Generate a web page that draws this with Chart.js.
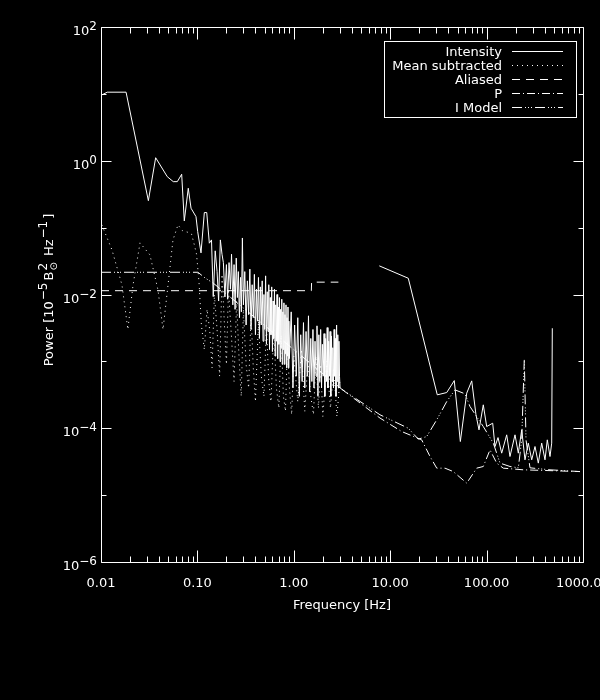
<!DOCTYPE html>
<html>
<head>
<meta charset="utf-8">
<script src="https://cdn.jsdelivr.net/npm/chart.js@4.4.1/dist/chart.umd.min.js"></script>
<style>
  html, body { margin: 0; padding: 0; background: #000; overflow: hidden; }
  #wrap { width: 600px; height: 700px; }
</style>
</head>
<body>
<div id="wrap"><canvas id="espectro"></canvas></div>
<script>
  // valores (Hz, potencia)
  const intensityFreq = [
    0.0102, 0.0116, 0.0182, 0.0310, 0.0369, 0.0487, 0.0562, 0.0619, 0.0687, 0.0731,
    0.0804, 0.0859, 0.0967, 0.1007, 0.109, 0.118, 0.125, 0.133,
    0.140, 0.146, 0.153, 0.160, 0.166, 0.173, 0.180, 0.186, 0.193, 0.200,
    0.206, 0.213, 0.220, 0.226, 0.233, 0.240, 0.246, 0.253, 0.260, 0.266,
    0.273, 0.280, 0.286, 0.293, 0.300,
    0.31, 0.32, 0.33, 0.34, 0.35, 0.36, 0.37, 0.38, 0.39, 0.40,
    0.41, 0.42, 0.43, 0.44, 0.45, 0.46, 0.47, 0.48, 0.49, 0.50,
    0.51, 0.52, 0.53, 0.54, 0.55, 0.56, 0.57, 0.58, 0.59, 0.60,
    0.61, 0.62, 0.63, 0.64, 0.65, 0.66, 0.67, 0.68, 0.69, 0.70,
    0.71, 0.72, 0.73, 0.74, 0.75, 0.76, 0.77, 0.78, 0.79, 0.80,
    0.81, 0.82, 0.83, 0.84, 0.85, 0.86, 0.87, 0.88, 0.89, 0.90,
    0.94, 0.98, 1.02, 1.06, 1.10, 1.14, 1.18, 1.22, 1.26, 1.30,
    1.34, 1.38, 1.42, 1.46, 1.50, 1.54, 1.58, 1.62, 1.66, 1.70,
    1.74, 1.78, 1.82, 1.86, 1.90, 1.94, 1.98, 2.02, 2.06, 2.10,
    2.14, 2.18, 2.22, 2.26, 2.30, 2.34, 2.38, 2.42, 2.46, 2.50,
    2.54, 2.58, 2.62, 2.66, 2.70, 2.74, 2.78, 2.82, 2.86, 2.90,
    2.94, 2.98, 3.02,
    5.0,
    7.71, 15.4, 30.8, 38.6, 46.2, 53.4, 62.2, 70.1, 77.6, 83.4,
    92.4, 100.2, 115.7, 122.2, 131.3, 143.4, 161.6, 174.8, 197.1, 213.3,
    231.3, 250.2, 270.8, 293.7, 317.8, 343.9, 372.9, 403.5, 426.3, 454.7,
    473.5, 480.3
  ];
  const intensityPow = [
    9.64, 10.6, 10.6, 0.253, 1.11, 0.578, 0.487, 0.487, 0.628, 0.126,
    0.388, 0.195, 0.146, 0.0871, 0.0419, 0.168, 0.168, 0.0585,
    0.0655, 0.0093, 0.045, 0.022, 0.008, 0.0655, 0.040, 0.030, 0.0092, 0.028,
    0.0085, 0.030, 0.012, 0.040, 0.007, 0.028, 0.006, 0.035, 0.0090, 0.022,
    0.0045, 0.018, 0.0055, 0.070, 0.0070,
    0.022, 0.0035, 0.016, 0.0050, 0.024, 0.0030, 0.014, 0.0045, 0.020, 0.0025,
    0.012, 0.0040, 0.018, 0.0022, 0.013, 0.0035, 0.016, 0.0020, 0.010, 0.0030,
    0.019, 0.0018, 0.011, 0.0028, 0.014, 0.0015, 0.009, 0.0025, 0.013, 0.0014,
    0.0080, 0.0022, 0.012, 0.0012, 0.0070, 0.0020, 0.010, 0.0011, 0.0065, 0.0018,
    0.0090, 0.0010, 0.0060, 0.0016, 0.0085, 0.0009, 0.0055, 0.0015, 0.0075, 0.0009,
    0.0050, 0.0013, 0.0070, 0.0008, 0.0045, 0.0012, 0.0065, 0.0008, 0.0040, 0.0011,
    0.0055, 0.0004, 0.0035, 0.0006, 0.0045, 0.0003, 0.0025, 0.0005, 0.0038, 0.0004,
    0.0028, 0.0006, 0.0048, 0.00035, 0.0022, 0.0005, 0.0030, 0.0004, 0.0020, 0.0006,
    0.0034, 0.0003, 0.0025, 0.0005, 0.0030, 0.0004, 0.0018, 0.0006, 0.0026, 0.0003,
    0.0022, 0.0005, 0.0032, 0.0004, 0.0020, 0.0006, 0.0028, 0.0003, 0.0024, 0.0005,
    0.0016, 0.0004, 0.0030, 0.0006, 0.0022, 0.0003, 0.0035, 0.0005, 0.0025, 0.0004,
    0.0020, 0.0006, 0.0004,
    null,
    0.0268, 0.0175, 3.16e-4, 3.42e-4, 5.16e-4, 6.33e-5, 3.35e-4, 5.11e-4, 1.59e-4, 9.46e-5,
    2.24e-4, 1.06e-4, 1.19e-4, 5.33e-5, 7.25e-5, 4.24e-5, 7.97e-5, 3.78e-5, 7.97e-5, 4.24e-5,
    9.46e-5, 3.37e-5, 5.99e-5, 3.37e-5, 5.33e-5, 3.01e-5, 5.99e-5, 3.37e-5, 6.71e-5, 3.78e-5,
    5.99e-5, 3.13e-3
  ];

  const meanSubFreq = [
    0.0102, 0.0130, 0.0165, 0.0190, 0.0215, 0.0254, 0.0322, 0.0390, 0.0440, 0.0496,
    0.0558, 0.0629, 0.0700, 0.0800, 0.0870, 0.0930, 0.0980, 0.104, 0.110, 0.118,
    0.126, 0.134, 0.142, 0.150, 0.160, 0.170, 0.180, 0.190, 0.200, 0.210,
    0.225, 0.240, 0.255, 0.270, 0.285, 0.300, 0.320, 0.340, 0.360, 0.380,
    0.400, 0.430, 0.460, 0.490, 0.520, 0.550, 0.580, 0.620, 0.660, 0.700,
    0.740, 0.780, 0.820, 0.860, 0.900, 0.950, 1.00, 1.10, 1.20, 1.30,
    1.40, 1.50, 1.60, 1.70, 1.80, 1.90, 2.00, 2.20, 2.40, 2.60,
    2.80, 3.00
  ];
  const meanSubPow = [
    0.110, 0.0464, 0.0139, 0.0030, 0.0139, 0.0591, 0.0391, 0.0117, 0.0030, 0.0139,
    0.0655, 0.110, 0.090, 0.085, 0.080, 0.055, 0.040, 0.015, 0.0035, 0.0015,
    0.006, 0.0030, 0.0008, 0.010, 0.0030, 0.0006, 0.020, 0.0040, 0.0009, 0.012,
    0.0025, 0.0005, 0.008, 0.0012, 0.0003, 0.006, 0.0009, 0.0004, 0.0050, 0.0008,
    0.00025, 0.004, 0.0006, 0.0003, 0.0035, 0.0005, 0.00025, 0.0030, 0.0004, 0.0002,
    0.0025, 0.0003, 0.00018, 0.0020, 0.0004, 0.00016, 0.0012, 0.00025, 0.0015, 0.00018,
    0.0010, 0.0003, 0.00016, 0.0012, 0.0002, 0.0009, 0.00015, 0.0010, 0.0002, 0.0008,
    0.00015, 0.0005
  ];

  const aliasedFreq = [0.01, 1.52, 1.53, 2.9];
  const aliasedPow = [0.0114, 0.0114, 0.0153, 0.0153];

  const pFreq = [3.14, 7.84, 13.16, 21.2, 25.9, 30.4, 37.0, 45.1, 62.2, 78.9, 92.4, 108.5, 127.3, 149.0, 240.3, 930.9];
  const pPow = [3.84e-4, 1.42e-4, 8.93e-5, 6.71e-5, 3.78e-5, 2.53e-5, 2.53e-5, 2.25e-5, 1.51e-5, 2.53e-5, 2.68e-5, 4.75e-5, 3.01e-5, 2.53e-5, 2.39e-5, 2.25e-5];

  const modelFreq = [0.0100, 0.1012, 0.120, 0.146, 3.14, 7.84, 15.41, 19.56, 23.9, 30.4, 38.6, 47.0, 59.7, 67.3, 92.4, 117.4, 137.7, 174.8, 213.3, 231.3, 246.1, 256.3, 282.0, 454.7, 930.9];
  const modelPow = [0.0215, 0.0215, 0.0177, 0.0148, 3.84e-4, 1.59e-4, 1.00e-4, 6.87e-5, 7.51e-5, 1.34e-4, 2.51e-4, 3.75e-4, 3.27e-4, 2.11e-4, 1.06e-4, 5.99e-5, 3.01e-5, 2.68e-5, 2.56e-5, 6.71e-5, 1.08e-3, 6.71e-5, 2.56e-5, 2.39e-5, 2.25e-5];

  const xTickValues = [0.01, 0.1, 1, 10, 100, 1000];
  const xTickLabels = ['0.01', '0.10', '1.00', '10.00', '100.00', '1000.00'];
  const yTickExps = [2, 0, -2, -4, -6];

  const FONTE = '"DejaVu Sans", sans-serif';

  function pares(xs, ys) {
    return xs.map((x, i) => ({ x: x, y: ys[i] }));
  }

  // texto com sobrescrito / subscrito; devolve a largura
  function textoRico(ctx, partes, x, y, desenhar) {
    let cx = x;
    partes.forEach(p => {
      if (p.n !== undefined) {
        ctx.font = '13px ' + FONTE;
        if (desenhar) ctx.fillText(p.n, cx, y);
        cx += ctx.measureText(p.n).width;
      } else {
        ctx.font = '12px ' + FONTE;
        let w = 0;
        if (p.sup) {
          if (desenhar) ctx.fillText(p.sup, cx + 1, y - 6);
          w = ctx.measureText(p.sup).width;
        }
        if (p.sub) {
          ctx.font = '10px ' + FONTE;
          if (desenhar) ctx.fillText(p.sub, cx + 1, y + 4);
          w = Math.max(w, ctx.measureText(p.sub).width);
        }
        cx += w + 3;
      }
    });
    return cx - x;
  }

  // eixos estilo IDL: caixa, ticks para dentro, rotulos e legenda
  const eixosIDL = {
    id: 'eixosIDL',
    afterDraw(chart) {
      const ctx = chart.ctx;
      const a = chart.chartArea;
      const sx = chart.scales.x;
      const sy = chart.scales.y;
      const L = Math.round(a.left) + 0.5, R = Math.round(a.right) + 0.5;
      const T = Math.round(a.top) + 0.5, B = Math.round(a.bottom) + 0.5;

      ctx.save();
      ctx.strokeStyle = '#fff';
      ctx.fillStyle = '#fff';
      ctx.lineWidth = 1;
      ctx.setLineDash([]);

      ctx.beginPath();
      ctx.rect(L, T, R - L, B - T);

      // ticks x (decadas e intermediarios)
      for (let d = -2; d <= 3; d++) {
        for (let k = 1; k <= 9; k++) {
          if (d === 3 && k > 1) break;
          const v = k * Math.pow(10, d);
          const px = Math.round(sx.getPixelForValue(v)) + 0.5;
          const len = k === 1 ? 12 : 6;
          ctx.moveTo(px, B); ctx.lineTo(px, B - len);
          ctx.moveTo(px, T); ctx.lineTo(px, T + len);
        }
      }
      // ticks y
      for (let e = -6; e <= 2; e++) {
        const py = Math.round(sy.getPixelForValue(Math.pow(10, e))) + 0.5;
        const len = e % 2 === 0 ? 10 : 5;
        ctx.moveTo(L, py); ctx.lineTo(L + len, py);
        ctx.moveTo(R, py); ctx.lineTo(R - len, py);
      }
      ctx.stroke();

      // rotulos x
      ctx.font = '13px ' + FONTE;
      ctx.textAlign = 'center';
      ctx.textBaseline = 'alphabetic';
      xTickValues.forEach((v, i) => {
        ctx.fillText(xTickLabels[i], sx.getPixelForValue(v), B + 24);
      });
      ctx.fillText('Frequency [Hz]', (a.left + a.right) / 2, B + 46);

      // rotulos y: 10^n
      ctx.textAlign = 'left';
      yTickExps.forEach(e => {
        const py = sy.getPixelForValue(Math.pow(10, e));
        const exp = e < 0 ? '\u2212' + (-e) : String(e);
        ctx.font = '12px ' + FONTE;
        const we = ctx.measureText(exp).width;
        ctx.font = '13px ' + FONTE;
        const wb = ctx.measureText('10').width;
        const x0 = a.left - 4 - we - wb;
        ctx.fillText('10', x0, py + 8);
        ctx.font = '12px ' + FONTE;
        ctx.fillText(exp, x0 + wb, py + 3);
      });

      // titulo y
      const tituloY = [
        { n: 'Power [10' }, { sup: '\u22125' }, { n: 'B' }, { sup: '2', sub: '\u2299' },
        { n: ' Hz' }, { sup: '\u22121' }, { n: ']' }
      ];
      ctx.save();
      ctx.translate(53, 290);
      ctx.rotate(-Math.PI / 2);
      const wt = textoRico(ctx, tituloY, 0, 0, false);
      textoRico(ctx, tituloY, -wt / 2, 0, true);
      ctx.restore();

      // legenda
      const caixa = { x: 384.5, y: 41.5, w: 192, h: 76 };
      ctx.fillStyle = '#000';
      ctx.fillRect(caixa.x, caixa.y, caixa.w, caixa.h);
      ctx.fillStyle = '#fff';
      ctx.strokeRect(caixa.x, caixa.y, caixa.w, caixa.h);
      ctx.font = '13px ' + FONTE;
      ctx.textAlign = 'right';
      chart.data.datasets.forEach((ds, i) => {
        const cy = Math.round(caixa.y + 9.5 + i * 13.9);
        ctx.fillText(ds.label, 502, cy + 5);
        ctx.beginPath();
        ctx.setLineDash(ds.borderDash || []);
        ctx.moveTo(512, cy + 0.5);
        ctx.lineTo(563, cy + 0.5);
        ctx.stroke();
      });
      ctx.restore();
    }
  };

  document.addEventListener('DOMContentLoaded', () => {
    const ctx = document.getElementById('espectro').getContext('2d');
    Chart.defaults.font.family = FONTE;
    Chart.defaults.color = '#fff';

    const base = { borderColor: '#fff', backgroundColor: '#fff', borderWidth: 1, pointRadius: 0, tension: 0, fill: false, spanGaps: false };

    new Chart(ctx, {
      type: 'line',
      data: {
        datasets: [
          Object.assign({}, base, { label: 'Intensity', data: pares(intensityFreq, intensityPow), borderDash: [] }),
          Object.assign({}, base, { label: 'Mean subtracted', data: pares(meanSubFreq, meanSubPow), borderDash: [1, 4] }),
          Object.assign({}, base, { label: 'Aliased', data: pares(aliasedFreq, aliasedPow), borderDash: [8, 6] }),
          Object.assign({}, base, { label: 'P', data: pares(pFreq, pPow), borderDash: [8, 3, 1, 3] }),
          Object.assign({}, base, { label: 'I Model', data: pares(modelFreq, modelPow), borderDash: [10, 3, 1, 2, 1, 2, 1, 3] })
        ]
      },
      options: {
        responsive: true,
        maintainAspectRatio: false,
        animation: false,
        layout: { padding: { left: 101, right: 17, top: 27, bottom: 138 } },
        scales: {
          x: { type: 'logarithmic', min: 0.01, max: 1000, display: false },
          y: { type: 'logarithmic', min: 1e-6, max: 100, display: false }
        },
        plugins: {
          legend: { display: false },
          tooltip: { enabled: false }
        }
      },
      plugins: [eixosIDL]
    });
  });
</script>
</body>
</html>
